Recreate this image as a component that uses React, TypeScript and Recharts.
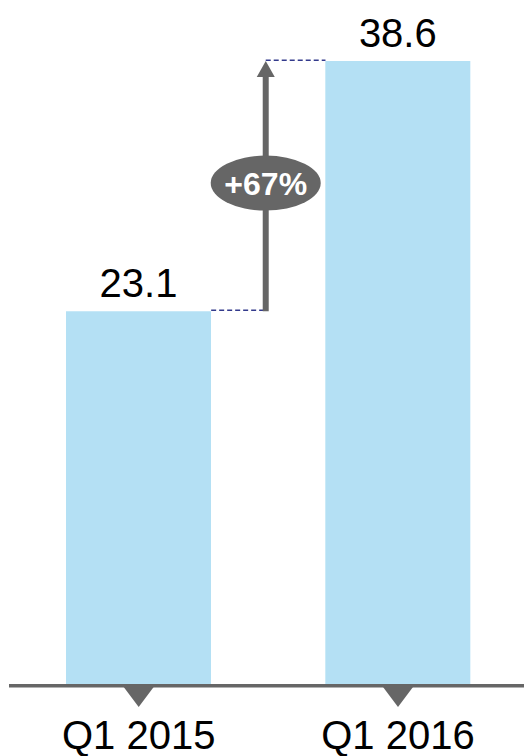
import React from "react";
import { ComposedChart, Bar, XAxis, YAxis, ReferenceLine, LabelList } from "recharts";

const categories = ["Q1 2015", "Q1 2016"];
const values = [23.1, 38.6];
const growthLabel = "+67%";
const xDomain = [-0.5, 1.486];
const yDomain = [0, 40];
const arrowX = 0.49;

const data = categories.map((c, i) => ({ idx: i, cat: c, value: values[i] }));

const FONT = "'Liberation Sans', Arial, sans-serif";
const GRAY = "#666666";
const BLUE = "#b4e0f4";
const NAVY = "#333a8c";
const BAR_SIZE = 145;

const Tick = (props: any) => {
  const { x, y, payload } = props;
  const label = categories[payload.value] ?? "";
  return (
    <g>
      <polygon points={`${x - 15},${y + 3} ${x + 15},${y + 3} ${x},${y + 23}`} fill={GRAY} />
      <text x={x} y={y + 65} textAnchor="middle" fontFamily={FONT} fontSize={40} fill="#000">
        {label}
      </text>
    </g>
  );
};

const ValueLabel = (props: any) => {
  const { x, y, width, value } = props;
  return (
    <text x={x + width / 2} y={y - 14} textAnchor="middle" fontFamily={FONT} fontSize={40} fill="#000">
      {value}
    </text>
  );
};

const makeDashed = (side: "left" | "right") => (props: any) => {
  const { x1, y1, x2, y2 } = props;
  const sx = side === "left" ? x1 + BAR_SIZE / 2 : x1;
  const ex = side === "right" ? x2 - BAR_SIZE / 2 : x2;
  return (
    <line x1={sx} y1={y1 - 0.8} x2={ex} y2={y2 - 0.8} stroke={NAVY} strokeWidth={1.5} strokeDasharray="5 3" />
  );
};
const DashLeft = makeDashed("left");
const DashRight = makeDashed("right");

const ArrowShape = (props: any) => {
  const { x1, y1, x2, y2 } = props;
  const head = 16;
  const my = (y1 + y2) / 2 - 3;
  return (
    <g>
      <line x1={x1} y1={y1} x2={x2} y2={y2 + head - 1} stroke={GRAY} strokeWidth={6} />
      <polygon points={`${x2 - 9},${y2 + head} ${x2 + 9},${y2 + head} ${x2},${y2}`} fill={GRAY} />
      <ellipse cx={x1} cy={my} rx={55} ry={27.5} fill={GRAY} />
      <text x={x1} y={my + 11.5} textAnchor="middle" fontFamily={FONT} fontWeight="bold" fontSize={32} fill="#fff">
        {growthLabel}
      </text>
    </g>
  );
};

export default function App() {
  return (
    <div style={{ position: "absolute", left: 0, top: 0 }}>
      <ComposedChart
        width={524}
        height={756}
        data={data}
        margin={{ top: 38.4, right: 0, bottom: 0, left: 9 }}
      >
        <XAxis
          dataKey="idx"
          type="number"
          domain={xDomain}
          allowDataOverflow
          ticks={[0, 1]}
          tick={<Tick />}
          tickLine={false}
          tickSize={0}
          tickMargin={0}
          height={72}
          axisLine={{ stroke: GRAY, strokeWidth: 3.5, transform: "translate(0,1.8)" }}
        />
        <YAxis hide domain={yDomain} />
        <Bar dataKey="value" fill={BLUE} barSize={BAR_SIZE} isAnimationActive={false}>
          <LabelList dataKey="value" content={<ValueLabel />} />
        </Bar>
        <ReferenceLine
          segment={[{ x: 0, y: values[0] }, { x: arrowX, y: values[0] }]}
          shape={<DashLeft />}
        />
        <ReferenceLine
          segment={[{ x: arrowX, y: values[1] }, { x: 1, y: values[1] }]}
          shape={<DashRight />}
        />
        <ReferenceLine
          segment={[{ x: arrowX, y: values[0] }, { x: arrowX, y: values[1] }]}
          shape={<ArrowShape />}
        />
      </ComposedChart>
    </div>
  );
}
